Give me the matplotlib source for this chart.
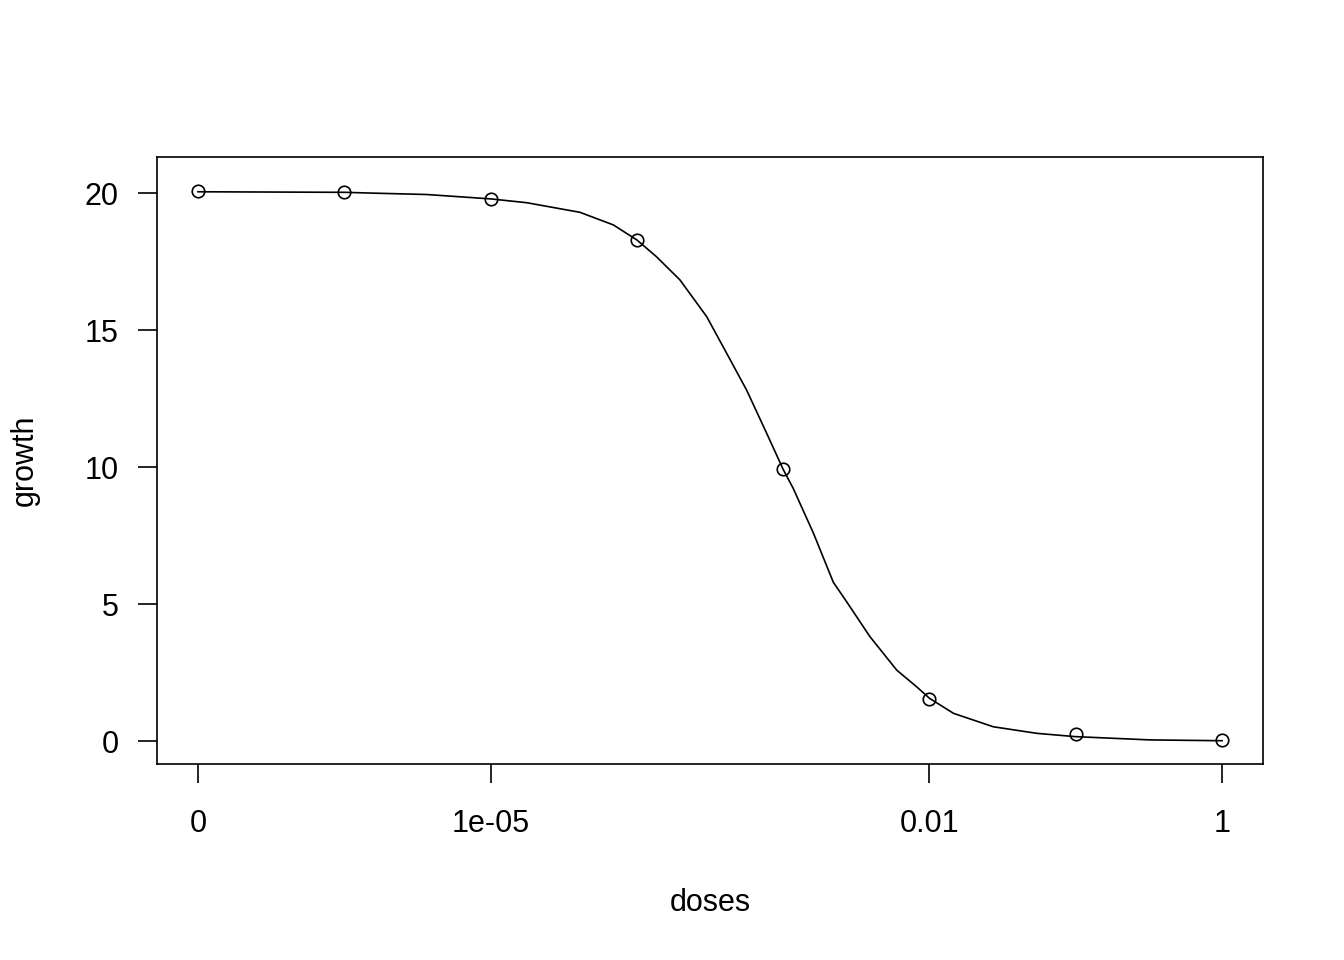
import numpy as np
import matplotlib
matplotlib.use("Agg")
import matplotlib.pyplot as plt

# observed data
doses = [0, 1e-6, 1e-5, 1e-4, 1e-3, 1e-2, 1e-1, 1]
growth = [20.1, 20.05, 19.8, 18.3, 9.92, 1.55, 0.27, 0.02]

# fitted curve
curve_dose = [1e-7, 1e-6, 1.58e-6, 3.66e-6, 1e-5, 1.77e-5, 4.08e-5, 6.9e-5, 1e-4,
              1.36e-4, 1.97e-4, 3.0e-4, 4.11e-4, 5.62e-4, 7.71e-4, 1e-3,
              1.17e-3, 1.61e-3, 2.2e-3, 2.72e-3, 3.92e-3, 5.97e-3, 8.17e-3, 1e-2,
              1.46e-2, 2.73e-2, 5.41e-2, 9.9e-2, 0.321, 1]
curve_growth = [20.06, 20.04, 20.01, 19.96, 19.80, 19.66, 19.31, 18.85, 18.30,
                17.69, 16.84, 15.50, 14.16, 12.82, 11.24, 9.92,
                9.23, 7.59, 5.80, 5.08, 3.81, 2.59, 1.98, 1.56,
                1.01, 0.52, 0.28, 0.16, 0.04, 0.01]

xticks = [1e-7, 1e-5, 1e-2, 1]
xticklabels = ["0", "1e-05", "0.01", "1"]
yticks = [0, 5, 10, 15, 20]

zero_pos = 1e-7  # position used for dose 0 on the log axis
plot_doses = [d if d > 0 else zero_pos for d in doses]

plt.rcParams['font.family'] = ['Liberation Sans', 'DejaVu Sans']
fig = plt.figure(figsize=(13.44, 9.6), dpi=100)
ax = fig.add_axes([157/1344, 1-764/960, (1263-157)/1344, (764-157)/960])

ax.plot(curve_dose, curve_growth, color='black', lw=1.2)
ax.plot(plot_doses, growth, linestyle='none', marker='o', markersize=9,
        markerfacecolor='none', markeredgecolor='black', markeredgewidth=1.2)

ax.set_xscale('log')
ax.set_xlim(10**-7.28, 10**0.2796)
ax.set_ylim(-0.84, 21.33)
ax.set_xticks(xticks)
ax.set_xticklabels(xticklabels)
ax.xaxis.set_minor_locator(matplotlib.ticker.NullLocator())
ax.set_yticks(yticks)
ax.tick_params(axis='both', length=13.7, width=1.2, labelsize=22, color='black')
ax.tick_params(axis='x', pad=19)
ax.tick_params(axis='y', pad=14)
for s in ax.spines.values():
    s.set_linewidth(1.2)

ax.set_xlabel("doses", fontsize=22, labelpad=35)
ax.set_ylabel("growth", fontsize=22, labelpad=32)

fig.savefig("out.png", dpi=100)
